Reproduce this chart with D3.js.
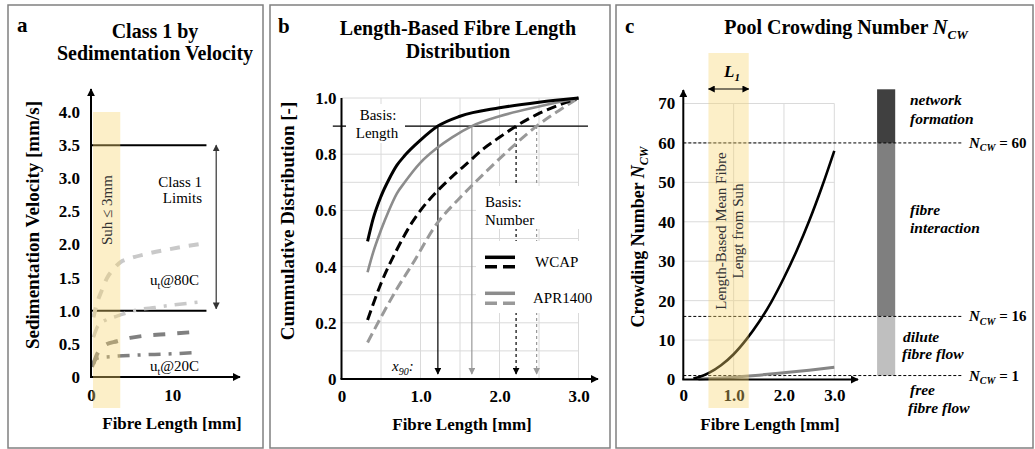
<!DOCTYPE html>
<html><head><meta charset="utf-8">
<script src="https://cdn.jsdelivr.net/npm/d3@7"></script>
<style>
body{margin:0;background:#fff}
text{font-family:"Liberation Serif","Times New Roman",serif;}
</style></head><body>
<svg id="chart" width="1035" height="449"></svg>
<script>
const FONT = '"Liberation Serif","Times New Roman",serif';

// ---------- Panel a data ----------
const aTickVel = [0, 0.5, 1, 1.5, 2, 2.5, 3, 3.5, 4];
const aTickLen = [0, 10];
const aLimits = [3.5, 1.0];
const aLimitEnd = 14.2;
const aSuhBand = [0.25, 3.6];
const a80DashLen = [0.3, 0.7, 1.3, 2, 2.7, 3.6, 4.8, 6.9, 9.7, 12, 14.2];
const a80DashVel = [0.9, 1.1, 1.3, 1.5, 1.62, 1.73, 1.79, 1.86, 1.93, 1.98, 2.02];
const a80DotLen = [0.3, 0.9, 2, 3.2, 5.6, 7.9, 10.3, 14];
const a80DotVel = [0.6, 0.78, 0.87, 0.92, 1.01, 1.05, 1.09, 1.14];
const a20DashLen = [0.3, 0.7, 1.7, 3.2, 4.8, 6.4, 9.5, 12.8];
const a20DashVel = [0.2, 0.33, 0.48, 0.54, 0.59, 0.62, 0.65, 0.68];
const a20DotLen = [0.15, 0.5, 1, 2.7, 5.4, 9.9, 13];
const a20DotVel = [0.15, 0.26, 0.29, 0.31, 0.33, 0.35, 0.37];

// ---------- Panel b data ----------
const bTickCum = [0, 0.2, 0.4, 0.6, 0.8, 1.0];
const bTickLen = [0, 1, 2, 3];
const bGridCum = [0.1, 0.2, 0.3, 0.4, 0.5, 0.6, 0.7, 0.8, 0.9, 1.0];
const bGridLen = [0.5, 1, 1.5, 2, 2.5, 3];
const bBasisLevel = 0.9;
const bWcapLenX = [0.33, 0.4, 0.5, 0.6, 0.7, 0.8, 1.0, 1.22, 1.5, 2.0, 2.5, 3.0];
const bWcapLenY = [0.49, 0.57, 0.65, 0.71, 0.76, 0.795, 0.85, 0.90, 0.935, 0.965, 0.985, 1.0];
const bAprLenX = [0.33, 0.4, 0.5, 0.6, 0.7, 0.8, 1.0, 1.2, 1.4, 1.65, 2.0, 2.5, 3.0];
const bAprLenY = [0.38, 0.45, 0.53, 0.6, 0.66, 0.7, 0.77, 0.82, 0.86, 0.90, 0.935, 0.97, 1.0];
const bWcapNumX = [0.33, 0.5, 0.7, 0.9, 1.0, 1.2, 1.4, 1.6, 1.8, 2.0, 2.21, 2.5, 2.8, 3.0];
const bWcapNumY = [0.21, 0.34, 0.46, 0.56, 0.6, 0.665, 0.72, 0.77, 0.82, 0.86, 0.90, 0.945, 0.98, 1.0];
const bAprNumX = [0.33, 0.5, 0.7, 0.9, 1.2, 1.5, 1.8, 2.1, 2.47, 2.75, 3.0];
const bAprNumY = [0.13, 0.22, 0.32, 0.41, 0.55, 0.645, 0.73, 0.81, 0.90, 0.955, 1.0];
const bX90 = [1.22, 1.65, 2.21, 2.47];
const bLegend = ["WCAP", "APR1400"];

// ---------- Panel c data ----------
const cTickN = [0, 10, 20, 30, 40, 50, 60, 70];
const cTickLen = [0, 1, 2, 3];
const cGridN = [10, 20, 30, 40, 50, 60, 70];
const cGridLen = [1, 2, 3];
const cBounds = [60, 16, 1];
const cBarLevels = [73.6, 60, 16, 1];
const cL1Band = [0.5, 1.3];
const cBlackX = [0.2, 0.3, 0.5, 0.75, 1.0, 1.25, 1.5, 1.75, 2.0, 2.25, 2.5, 2.75, 3.0];
const cBlackY = [0.25, 0.55, 1.6, 3.6, 6.4, 10.1, 14.5, 19.7, 25.8, 32.6, 40.2, 48.7, 58];
const cGrayX = [0.3, 0.75, 1.0, 1.5, 2.0, 2.5, 3.0];
const cGrayY = [0.05, 0.35, 0.6, 1.1, 1.7, 2.35, 3.1];

// ---------- helpers ----------
const svg = d3.select("#chart");
svg.append("rect").attr("width", 1035).attr("height", 449).attr("fill", "#fff");
const defs = svg.append("defs");
function marker(id, color, size) {
  defs.append("marker").attr("id", id).attr("viewBox", "0 0 10 10")
    .attr("refX", 9).attr("refY", 5).attr("markerUnits", "userSpaceOnUse")
    .attr("markerWidth", size).attr("markerHeight", size).attr("orient", "auto-start-reverse")
    .append("path").attr("d", "M0,0L10,5L0,10z").attr("fill", color);
}
marker("ak", "#000", 8);
marker("ak6", "#000", 7);
marker("ag", "#999", 7);
marker("ad", "#333", 7);

const zip = (xs, ys) => xs.map((x, i) => [x, ys[i]]);
function curve(g, xs, ys, xS, yS, stroke, w, dash) {
  g.append("path").datum(zip(xs, ys))
    .attr("d", d3.line().x(d => xS(d[0])).y(d => yS(d[1])).curve(d3.curveMonotoneX))
    .attr("fill", "none").attr("stroke", stroke).attr("stroke-width", w)
    .attr("stroke-dasharray", dash || null).attr("stroke-linecap", "butt");
}
function line(g, x1, y1, x2, y2, stroke, w, dash, m1, m2) {
  const l = g.append("line").attr("x1", x1).attr("y1", y1).attr("x2", x2).attr("y2", y2)
    .attr("stroke", stroke).attr("stroke-width", w);
  if (dash) l.attr("stroke-dasharray", dash);
  if (m1) l.attr("marker-start", `url(#${m1})`);
  if (m2) l.attr("marker-end", `url(#${m2})`);
  return l;
}
function text(g, x, y, s, o = {}) {
  const t = g.append("text").attr("x", x).attr("y", y)
    .attr("font-size", o.size || 15).attr("font-weight", o.bold ? "bold" : "normal")
    .attr("font-style", o.italic ? "italic" : "normal")
    .attr("text-anchor", o.anchor || "start").attr("fill", o.fill || "#000");
  if (o.rotate) t.attr("transform", `rotate(-90,${x},${y})`);
  if (s !== null) t.text(s);
  return t;
}
function sub(t, s, size, italic) {
  t.append("tspan").attr("dy", size * 0.35).attr("font-size", size)
    .attr("font-style", italic ? "italic" : null).text(s);
}
function yAxis(g, scale, ticks, x, pad, fmt) {
  const ax = g.append("g").attr("transform", `translate(${x},0)`)
    .call(d3.axisLeft(scale).tickValues(ticks).tickSize(0).tickPadding(pad).tickFormat(fmt));
  ax.select(".domain").remove();
  ax.attr("font-family", FONT).attr("font-size", 17).attr("font-weight", "bold");
  ax.selectAll("text").attr("fill", "#000");
}
function xAxis(g, scale, ticks, y, pad, fmt) {
  const ax = g.append("g").attr("transform", `translate(0,${y})`)
    .call(d3.axisBottom(scale).tickValues(ticks).tickSize(0).tickPadding(pad).tickFormat(fmt));
  ax.select(".domain").remove();
  ax.attr("font-family", FONT).attr("font-size", 17).attr("font-weight", "bold");
  ax.selectAll("text").attr("fill", "#000");
}
const fmt1 = d => d === 0 ? "0" : d3.format(".1f")(d);
const BAND = "#f8d56e";
const BAND_OP = 0.38;

// ---------- frames ----------
[[8, 5, 255, 443], [270, 5, 340, 443], [616, 5, 417, 443]].forEach(f => {
  svg.append("rect").attr("x", f[0]).attr("y", f[1]).attr("width", f[2]).attr("height", f[3])
    .attr("fill", "none").attr("stroke", "#808080").attr("stroke-width", 1.5);
});

// ================= Panel a =================
{
  const g = svg.append("g");
  const x = d3.scaleLinear([0, 10], [91, 172.3]);
  const y = d3.scaleLinear([0, 4], [377, 112]);
  text(g, 17, 32, "a", {size: 21, bold: true});
  text(g, 155, 38, "Class 1 by", {size: 20, bold: true, anchor: "middle"});
  text(g, 155, 60, "Sedimentation Velocity", {size: 20, bold: true, anchor: "middle"});

  aLimits.forEach(v => line(g, x(0), y(v), x(aLimitEnd), y(v), "#000", 2));
  line(g, x(15.4), y(aLimits[0]), x(15.4), y(aLimits[1]) - 2, "#333", 1.2, null, "ad", "ad");
  text(g, 202, 187, "Class 1", {size: 15, anchor: "end"});
  text(g, 202, 203, "Limits", {size: 15, anchor: "end"});

  curve(g, a80DashLen, a80DashVel, x, y, "#c9c9c9", 4, "10,9");
  curve(g, a80DotLen, a80DotVel, x, y, "#c9c9c9", 3.5, "12,8,3,8");
  curve(g, a20DashLen, a20DashVel, x, y, "#808080", 4, "12,12");
  curve(g, a20DotLen, a20DotVel, x, y, "#808080", 3.5, "12,8,3,8");

  let t = text(g, 150, 285, "u", {size: 15}); sub(t, "t", 10); t.append("tspan").attr("dy", -3.5).text("@80C");
  t = text(g, 150, 371, "u", {size: 15}); sub(t, "t", 10); t.append("tspan").attr("dy", -3.5).text("@20C");

  line(g, x(0), y(0), x(0), 89, "#000", 2, null, null, "ak");
  line(g, x(0) - 1, y(0), 240, y(0), "#000", 2, null, null, "ak");
  yAxis(g, y, aTickVel, x(0), 11, fmt1);
  xAxis(g, x, aTickLen, y(0), 12, d => d);

  text(g, 172, 429, "Fibre Length [mm]", {size: 17, bold: true, anchor: "middle"});
  text(g, 39, 225, "Sedimentation Velocity [mm/s]", {size: 19, bold: true, anchor: "middle", rotate: true});

  g.append("rect").attr("x", x(aSuhBand[0])).attr("width", x(aSuhBand[1]) - x(aSuhBand[0]))
    .attr("y", y(4)).attr("height", 408 - y(4)).attr("fill", BAND).attr("opacity", BAND_OP);
  text(g, 112, 210, "Suh ≤ 3mm", {size: 15, anchor: "middle", rotate: true, fill: "#333"});
}

// ================= Panel b =================
{
  const g = svg.append("g");
  const x = d3.scaleLinear([0, 3], [341.5, 578.5]);
  const y = d3.scaleLinear([0, 1], [379, 98]);
  text(g, 278, 33, "b", {size: 21, bold: true});
  text(g, 458, 35, "Length-Based Fibre Length", {size: 20, bold: true, anchor: "middle"});
  text(g, 458, 58, "Distribution", {size: 20, bold: true, anchor: "middle"});

  bGridLen.forEach(v => line(g, x(v), y(0), x(v), y(1), "#dadada", 1));
  bGridCum.forEach(v => line(g, x(0), y(v), x(3), y(v), "#dadada", 1));

  line(g, x(-0.11), y(bBasisLevel), x(3.12), y(bBasisLevel), "#000", 1.3);
  const arrowStyle = [["#000", null, "ak6"], ["#999", null, "ag"], ["#000", "3,3", "ak6"], ["#999", "3,3", "ag"]];
  bX90.forEach((v, i) => line(g, x(v), y(bBasisLevel), x(v), y(0) - 5, arrowStyle[i][0], 1.2, arrowStyle[i][1], null, arrowStyle[i][2]));

  // white boxes behind annotation text
  g.append("rect").attr("x", 346).attr("y", 104).attr("width", 59).attr("height", 39).attr("fill", "#fff");
  g.append("rect").attr("x", 476).attr("y", 186).attr("width", 116).attr("height", 43).attr("fill", "#fff");
  g.append("rect").attr("x", 476).attr("y", 241).attr("width", 116).attr("height", 72).attr("fill", "#fff");

  curve(g, bAprNumX, bAprNumY, x, y, "#999", 3, "10,5");
  curve(g, bWcapNumX, bWcapNumY, x, y, "#000", 3, "10,5");
  curve(g, bAprLenX, bAprLenY, x, y, "#8c8c8c", 2.6);
  curve(g, bWcapLenX, bWcapLenY, x, y, "#000", 3);

  text(g, 378, 120, "Basis:", {size: 15, anchor: "middle"});
  text(g, 377, 138, "Length", {size: 15, anchor: "middle"});
  text(g, 485, 207, "Basis:", {size: 15});
  text(g, 485, 225, "Number", {size: 15});

  // legend
  line(g, 485, 257.3, 515, 257.3, "#000", 3.5);
  line(g, 485, 266.7, 515, 266.7, "#000", 3.5, "12,6");
  text(g, 535, 267, bLegend[0], {size: 15});
  line(g, 485, 293.3, 515, 293.3, "#8c8c8c", 3.5);
  line(g, 485, 303.3, 515, 303.3, "#999", 3.5, "12,6");
  text(g, 533, 303, bLegend[1], {size: 15});

  let t = text(g, 392, 371, "x", {size: 15, italic: true}); sub(t, "90", 10, true);
  t.append("tspan").attr("dy", -3.5).text(":");

  line(g, x(0), y(0), x(0), y(1), "#000", 2);
  line(g, x(0) - 1, y(0), 598, y(0), "#000", 2, null, null, "ak");
  yAxis(g, y, bTickCum, x(0), 5, fmt1);
  xAxis(g, x, bTickLen, y(0), 11, fmt1);

  text(g, 462, 430, "Fibre Length [mm]", {size: 17, bold: true, anchor: "middle"});
  text(g, 294, 221, "Cummulative Distribution [-]", {size: 19, bold: true, anchor: "middle", rotate: true});
}

// ================= Panel c =================
{
  const g = svg.append("g");
  const x = d3.scaleLinear([0, 3], [683.3, 834.3]);
  const y = d3.scaleLinear([0, 70], [379.5, 103.5]);
  text(g, 625, 33, "c", {size: 21, bold: true});
  let t = text(g, 846, 34, "Pool Crowding Number ", {size: 20, bold: true, anchor: "middle"});
  t.append("tspan").attr("font-style", "italic").text("N");
  sub(t, "CW", 13, true);

  cGridLen.forEach(v => line(g, x(v), y(0), x(v), y(70), "#dadada", 1));
  cGridN.forEach(v => line(g, x(0), y(v), x(3), y(v), "#dadada", 1));

  // regime bar
  const barX0 = x(3.85), barX1 = x(4.21);
  const barCols = ["#404040", "#7f7f7f", "#bfbfbf"];
  for (let i = 0; i < 3; i++) {
    g.append("rect").attr("x", barX0).attr("width", barX1 - barX0)
      .attr("y", y(cBarLevels[i])).attr("height", y(cBarLevels[i + 1]) - y(cBarLevels[i]))
      .attr("fill", barCols[i]);
  }
  cBounds.forEach(v => {
    line(g, x(0), y(v), x(5.53), y(v), "#000", 1, "3,2");
    const tt = text(g, 969, y(v) + 5, "N", {size: 15, bold: true, italic: true});
    sub(tt, "CW", 10, true);
    tt.append("tspan").attr("dy", -3.5).attr("font-style", "normal").text(" = " + v);
  });

  curve(g, cGrayX, cGrayY, x, y, "#858585", 3);
  curve(g, cBlackX, cBlackY, x, y, "#000", 2.6);

  const zl = [["network", 910, 105], ["formation", 910, 124], ["fibre", 910, 215], ["interaction", 910, 233],
              ["dilute", 903, 342], ["fibre flow", 902, 359], ["free", 910, 395], ["fibre flow", 908, 413]];
  zl.forEach(d => text(g, d[1], d[2], d[0], {size: 15.5, bold: true, italic: true}));

  line(g, x(0), y(0), x(0), 90, "#000", 2, null, null, "ak");
  line(g, x(0) - 1, y(0), 858, y(0), "#000", 2, null, null, "ak");
  yAxis(g, y, cTickN, x(0), 8, d3.format("d"));
  xAxis(g, x, cTickLen, y(0), 9, fmt1);

  text(g, 770, 430, "Fibre Length [mm]", {size: 17, bold: true, anchor: "middle"});
  t = text(g, 644, 237, "Crowding Number ", {size: 18, bold: true, anchor: "middle", rotate: true});
  t.append("tspan").attr("font-style", "italic").text("N");
  sub(t, "CW", 12, true);

  g.append("rect").attr("x", x(cL1Band[0])).attr("width", x(cL1Band[1]) - x(cL1Band[0]))
    .attr("y", 53).attr("height", 355).attr("fill", BAND).attr("opacity", BAND_OP);

  text(g, 726, 231, "Length-Based Mean Fibre", {size: 15, anchor: "middle", rotate: true, fill: "#333"});
  text(g, 743, 231, "Lengt from Suh", {size: 15, anchor: "middle", rotate: true, fill: "#333"});

  line(g, x(cL1Band[0]), 89, x(cL1Band[1]), 89, "#000", 1.2, null, "ak6", "ak6");
  t = text(g, 724, 77, "L", {size: 17, bold: true, italic: true});
  sub(t, "1", 11, true);
}
</script></body></html>
